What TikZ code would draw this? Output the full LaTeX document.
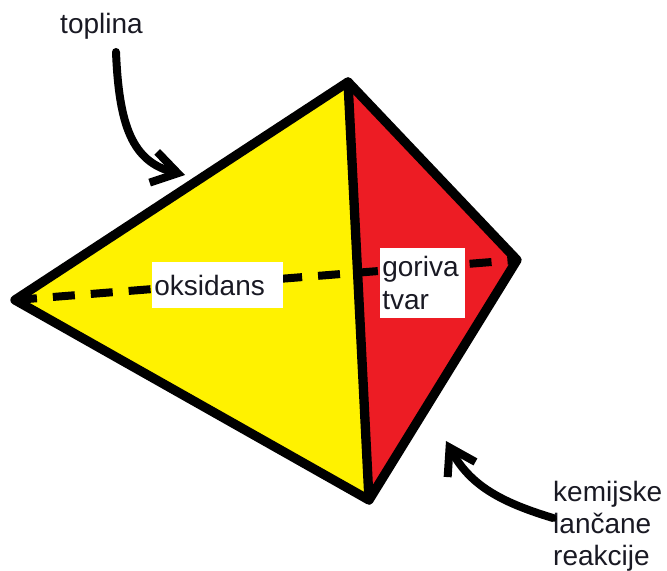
\documentclass[tikz,border=0pt]{standalone}
\usepackage{fontspec}
\setmainfont{Liberation Sans}
\usepackage{xcolor}
\definecolor{FaceYellow}{RGB}{255,242,0}
\definecolor{FaceRed}{RGB}{237,28,36}
\definecolor{InkDark}{RGB}{25,25,35}
\usetikzlibrary{arrows.meta}
\newcommand{\lblfont}{\fontsize{23.9}{27.5}\selectfont}
\tikzset{
  % thick marker strokes
  marker/.style={line width=0.28cm, line cap=round, line join=round, black},
  hidden line/.style={line width=0.24cm, black, dash pattern=on 0.66cm off 0.48cm},
  % white label boxes on the faces
  facelbl/.style={fill=white, inner xsep=0.07cm, inner ysep=0pt,
    align=left, font=\lblfont, text=InkDark},
  % free text
  freelbl/.style={inner sep=0pt, align=left, font=\lblfont, text=InkDark},
  % curved pointer arrows
  pointer/.style={marker, line width=0.24cm, -{Straight Barb[length=0.75cm, width=0.95cm]}},
}
\begin{document}
\begin{tikzpicture}[x=0.03cm, y=-0.03cm]
  \useasboundingbox (0,0) rectangle (667,571);

  % corners of the tetrahedron
  \coordinate (left) at (15,300);
  \coordinate (top) at (348,82);
  \coordinate (bottom) at (369,500);
  \coordinate (right) at (517,260);

  % faces
  \fill[FaceYellow] (left) -- (top) -- (bottom) -- cycle;
  \fill[FaceRed] (top) -- (right) -- (bottom) -- cycle;

  % back edge
  \draw[hidden line] (left) -- (right);

  % visible edges
  \draw[marker] (left) -- (top) -- (right) -- (bottom) -- cycle;
  \draw[marker] (top) -- (bottom);

  % face labels
  \node[facelbl, text width=3.79cm, minimum height=1.38cm] (oksidans) at (217.5,285) {oksidans};
  \node[facelbl, text width=2.41cm, minimum height=2.1cm] (gorivo) at (422.5,283) {goriva\\tvar};

  % side labels
  \node[freelbl, anchor=base west] (toplina) at (60,34) {toplina};
  \node[freelbl, anchor=north west] (reakcije) at (553,481) {kemijske\\lančane\\reakcije};

  % arrows
  \coordinate (toplinaStart) at (116,52);
  \coordinate (toplinaTip) at (185,175);
  \coordinate (reakcijeStart) at (553,518);
  \coordinate (reakcijeTip) at (446,441);
  \draw[pointer] (toplinaStart) .. controls (119,125) and (132,162) .. (toplinaTip);
  \draw[pointer] (reakcijeStart) .. controls (500,502) and (470,485) .. (reakcijeTip);
\end{tikzpicture}
\end{document}
